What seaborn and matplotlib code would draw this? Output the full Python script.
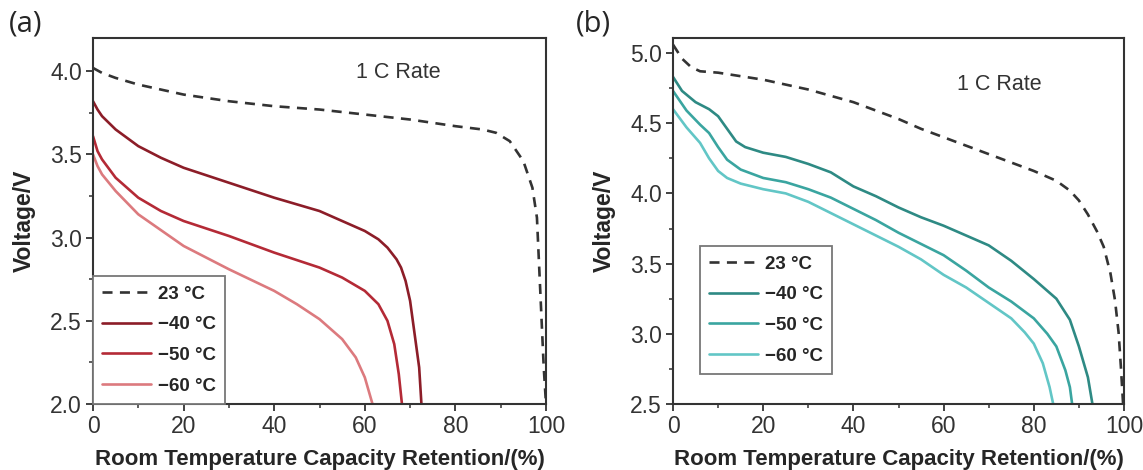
import numpy as np
import pandas as pd
import matplotlib
matplotlib.use("Agg")
import matplotlib.pyplot as plt
import seaborn as sns
from matplotlib.ticker import MultipleLocator

# ---------------- data ----------------
labels = ["23 \u00b0C", "\u221240 \u00b0C", "\u221250 \u00b0C", "\u221260 \u00b0C"]

# Panel (a)
a23_x = [0, 2, 5, 10, 20, 30, 40, 50, 60, 70, 80, 86, 89, 92, 95, 97, 98, 98.5, 99, 99.5, 100]
a23_y = [4.02, 3.99, 3.96, 3.92, 3.86, 3.82, 3.79, 3.77, 3.74, 3.71, 3.67, 3.65, 3.63, 3.58, 3.46, 3.30, 3.12, 2.82, 2.52, 2.22, 2.0]
a40_x = [0, 1, 2, 5, 10, 15, 20, 30, 40, 50, 55, 60, 63, 65, 67, 68, 69, 70, 71, 72, 72.5]
a40_y = [3.82, 3.77, 3.73, 3.65, 3.55, 3.48, 3.42, 3.33, 3.24, 3.16, 3.10, 3.04, 2.99, 2.94, 2.87, 2.82, 2.74, 2.62, 2.42, 2.22, 2.0]
a50_x = [0, 1, 2, 5, 10, 15, 20, 30, 40, 50, 55, 60, 63, 65, 66.5, 67.5, 68.2]
a50_y = [3.61, 3.52, 3.47, 3.36, 3.24, 3.16, 3.10, 3.01, 2.91, 2.82, 2.76, 2.68, 2.60, 2.50, 2.36, 2.18, 2.0]
a60_x = [0, 1, 2, 5, 10, 20, 30, 40, 45, 50, 55, 58, 60, 61.7]
a60_y = [3.50, 3.43, 3.38, 3.28, 3.14, 2.95, 2.81, 2.68, 2.60, 2.51, 2.39, 2.28, 2.16, 2.0]

# Panel (b)
b23_x = [0, 2, 4, 6, 10, 20, 30, 40, 50, 55, 60, 70, 80, 85, 88, 90, 92, 94, 95.5, 97, 98, 98.8, 99.3, 99.8]
b23_y = [5.06, 4.96, 4.90, 4.87, 4.86, 4.81, 4.74, 4.65, 4.53, 4.46, 4.40, 4.28, 4.16, 4.09, 4.02, 3.95, 3.85, 3.73, 3.62, 3.43, 3.24, 3.01, 2.77, 2.5]
b40_x = [0, 2, 5, 8, 10, 12, 14, 16, 20, 25, 30, 35, 40, 45, 50, 55, 60, 65, 70, 75, 80, 85, 88, 90, 92, 93]
b40_y = [4.83, 4.73, 4.65, 4.60, 4.55, 4.46, 4.37, 4.33, 4.29, 4.26, 4.21, 4.15, 4.05, 3.98, 3.90, 3.83, 3.77, 3.70, 3.63, 3.52, 3.39, 3.25, 3.10, 2.91, 2.69, 2.5]
b50_x = [0, 3, 6, 8, 10, 12, 15, 20, 25, 30, 35, 40, 45, 50, 55, 60, 65, 70, 75, 80, 83, 85, 87, 88, 88.5]
b50_y = [4.73, 4.59, 4.49, 4.43, 4.33, 4.24, 4.17, 4.11, 4.08, 4.03, 3.97, 3.89, 3.81, 3.72, 3.64, 3.56, 3.45, 3.33, 3.23, 3.11, 3.00, 2.91, 2.74, 2.62, 2.5]
b60_x = [0, 3, 6, 8, 10, 12, 15, 20, 25, 30, 35, 40, 45, 50, 55, 60, 65, 70, 75, 78, 80, 82, 83.5, 84.3]
b60_y = [4.60, 4.47, 4.36, 4.25, 4.16, 4.11, 4.07, 4.03, 4.00, 3.94, 3.86, 3.78, 3.70, 3.62, 3.53, 3.42, 3.33, 3.22, 3.11, 3.01, 2.93, 2.79, 2.62, 2.5]

xticks = [0, 20, 40, 60, 80, 100]
a_yticks = [2.0, 2.5, 3.0, 3.5, 4.0]
b_yticks = [2.5, 3.0, 3.5, 4.0, 4.5, 5.0]

# ---------------- styling ----------------
sns.set_style("ticks")
plt.rcParams["font.family"] = ["Liberation Sans", "DejaVu Sans"]

red_colors = ["#333333", "#8c1d28", "#b42a36", "#dc7a7e"]
teal_colors = ["#333333", "#2e8a84", "#3aa5a0", "#62c6c6"]

fig = plt.figure(figsize=(11.43, 4.70), dpi=100)
ax_a = fig.add_axes([93 / 1143, 1 - 404 / 470, 453 / 1143, 366 / 470])
ax_b = fig.add_axes([673 / 1143, 1 - 404 / 470, 451 / 1143, 366 / 470])


def draw(ax, series, colors):
    for (xs, ys), lab, col in zip(series, labels, colors):
        df = pd.DataFrame({"x": xs, "y": ys})
        ls = (0, (3.8, 2.8)) if lab.startswith("23") else "-"
        sns.lineplot(data=df, x="x", y="y", ax=ax, color=col, lw=1.9,
                     linestyle=ls, label=lab, sort=False, estimator=None)


draw(ax_a, [(a23_x, a23_y), (a40_x, a40_y), (a50_x, a50_y), (a60_x, a60_y)], red_colors)
draw(ax_b, [(b23_x, b23_y), (b40_x, b40_y), (b50_x, b50_y), (b60_x, b60_y)], teal_colors)

for ax, yt, ylim in [(ax_a, a_yticks, (2.0, 4.2)), (ax_b, b_yticks, (2.5, 5.107))]:
    ax.set_xlim(0, 100)
    ax.set_ylim(*ylim)
    ax.set_xticks(xticks)
    ax.set_yticks(yt)
    ax.set_yticklabels([f"{v:.1f}" for v in yt])
    ax.xaxis.set_minor_locator(MultipleLocator(10))
    ax.yaxis.set_minor_locator(MultipleLocator(0.25))
    ax.tick_params(which="major", direction="out", length=5, width=1.3,
                   color="#333333", labelsize=16.5, labelcolor="#333333", pad=3)
    ax.tick_params(which="minor", direction="out", length=3, width=1.1, color="#333333")
    for s in ax.spines.values():
        s.set_color("#333333")
        s.set_linewidth(1.5)
    ax.set_xlabel("Room Temperature Capacity Retention/(%)", fontsize=16,
                  fontweight="bold", labelpad=8)
    ax.set_ylabel("Voltage/V", fontsize=16.5, fontweight="bold", labelpad=10)

ax_a.text(0.675, 0.905, "1 C Rate", transform=ax_a.transAxes, fontsize=15.5,
          color="#333333", ha="center", va="center")
ax_b.text(0.723, 0.872, "1 C Rate", transform=ax_b.transAxes, fontsize=15.5,
          color="#333333", ha="center", va="center")

leg_kw = dict(frameon=True, fancybox=False, edgecolor="#777777", framealpha=1,
              prop={"size": 13.5, "weight": "bold"}, handlelength=2.6,
              handletextpad=0.35, borderpad=0.5, labelspacing=0.72,
              borderaxespad=0)
la = ax_a.legend(loc="lower left", bbox_to_anchor=(0, 0), **leg_kw)
lb = ax_b.legend(loc="lower left", bbox_to_anchor=(0.06, 0.082), **leg_kw)
for lg in (la, lb):
    lg.get_frame().set_linewidth(1.3)

fig.text(9 / 1143, 1 - 24 / 470, "(a)", fontsize=21, family="Open Sans",
         va="center", ha="left")
fig.text(576 / 1143, 1 - 24 / 470, "(b)", fontsize=21, family="Open Sans",
         va="center", ha="left")

fig.savefig("out.png", dpi=100)
